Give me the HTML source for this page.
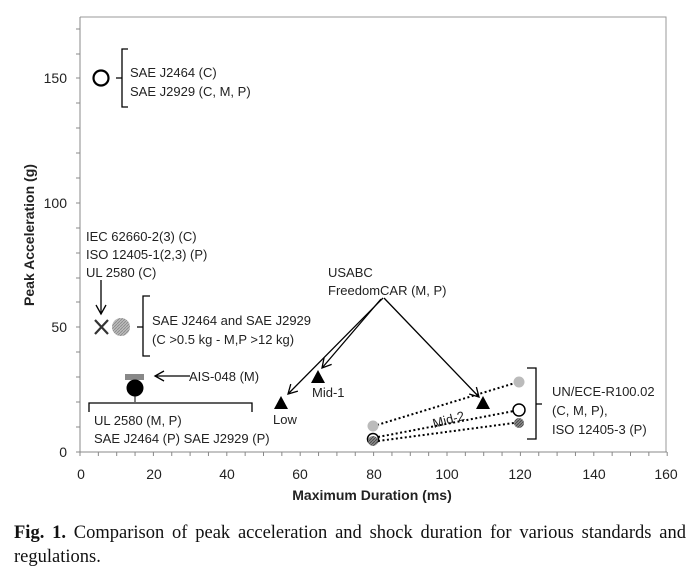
<!DOCTYPE html>
<html><head><meta charset="utf-8"><style>
body{margin:0;background:#fff;width:700px;height:579px;overflow:hidden;position:relative}
svg{position:absolute;left:0;top:0}
.cap{position:absolute;left:14px;top:521px;width:672px;font-family:"Liberation Serif",serif;font-size:18.5px;line-height:24px;text-align:justify;text-align-last:left;color:#111}
</style></head><body>
<svg width="700" height="579" font-family="Liberation Sans, sans-serif">
<defs>
<marker id="ah" markerWidth="12" markerHeight="12" refX="10" refY="6" orient="auto" markerUnits="userSpaceOnUse"><path d="M1,1 L10,6 L1,11" fill="none" stroke="#000" stroke-width="1.3"/></marker>
<pattern id="hg" width="3" height="3" patternUnits="userSpaceOnUse"><rect width="3" height="3" fill="#bbb"/><path d="M0,3 L3,0" stroke="#888" stroke-width="0.8"/></pattern>
<pattern id="hd" width="3" height="3" patternUnits="userSpaceOnUse"><rect width="3" height="3" fill="#888"/><path d="M0,3 L3,0" stroke="#444" stroke-width="0.8"/></pattern>
</defs>
<!-- frame -->
<path d="M80,17 H666 V452" fill="none" stroke="#999" stroke-width="1"/>
<line x1="80" y1="17" x2="80" y2="452" stroke="#888"/>
<line x1="80" y1="452" x2="667" y2="452" stroke="#888"/>
<g stroke="#888" stroke-width="1">
<line x1="76" y1="452" x2="80" y2="452"/><line x1="76" y1="427" x2="80" y2="427"/><line x1="76" y1="402" x2="80" y2="402"/><line x1="76" y1="377" x2="80" y2="377"/><line x1="76" y1="352" x2="80" y2="352"/><line x1="76" y1="327" x2="80" y2="327"/><line x1="76" y1="302" x2="80" y2="302"/><line x1="76" y1="278" x2="80" y2="278"/><line x1="76" y1="253" x2="80" y2="253"/><line x1="76" y1="228" x2="80" y2="228"/><line x1="76" y1="203" x2="80" y2="203"/><line x1="76" y1="178" x2="80" y2="178"/><line x1="76" y1="153" x2="80" y2="153"/><line x1="76" y1="128" x2="80" y2="128"/><line x1="76" y1="103" x2="80" y2="103"/><line x1="76" y1="78" x2="80" y2="78"/><line x1="76" y1="54" x2="80" y2="54"/><line x1="76" y1="29" x2="80" y2="29"/>
</g>
<g stroke="#888" stroke-width="1" id="xt"></g>
<g font-size="14" fill="#222" text-anchor="end">
<text x="67" y="457">0</text><text x="67" y="332">50</text><text x="67" y="208">100</text><text x="67" y="83">150</text>
</g>
<g font-size="14" fill="#222" text-anchor="middle">
<text x="81" y="479">0</text><text x="154" y="479">20</text><text x="227" y="479">40</text><text x="300" y="479">60</text><text x="374" y="479">80</text><text x="447" y="479">100</text><text x="520" y="479">120</text><text x="594" y="479">140</text><text x="666" y="479">160</text>
</g>
<text x="372" y="500" font-size="14" font-weight="bold" text-anchor="middle" fill="#222">Maximum Duration (ms)</text>
<text transform="translate(34,235) rotate(-90)" font-size="14" font-weight="bold" text-anchor="middle" fill="#222">Peak Acceleration (g)</text>

<g font-size="13" fill="#222">
<!-- 150 -->
<circle cx="101" cy="78" r="7.5" fill="none" stroke="#000" stroke-width="2.2"/>
<path d="M128,49 H122 V107 H128 M122,78 H116" fill="none" stroke="#000" stroke-width="1.3"/>
<text x="130" y="77">SAE J2464 (C)</text><text x="130" y="96">SAE J2929 (C, M, P)</text>
<!-- IEC -->
<text x="86" y="241">IEC 62660-2(3) (C)</text><text x="86" y="259">ISO 12405-1(2,3) (P)</text><text x="86" y="277">UL 2580 (C)</text>
<line x1="101" y1="280" x2="101" y2="314" stroke="#000" stroke-width="1.3" marker-end="url(#ah)"/>
<path d="M95,320 L108,334 M108,320 L95,334" stroke="#333" stroke-width="2.2"/>
<circle cx="121" cy="327" r="9" fill="url(#hg)"/>
<path d="M150,296 H143 V356 H150 M143,327 H137" fill="none" stroke="#000" stroke-width="1.3"/>
<text x="152" y="325">SAE J2464 and SAE J2929</text><text x="152" y="344">(C &gt;0.5 kg - M,P &gt;12 kg)</text>
<!-- AIS -->
<rect x="125" y="374" width="19" height="6" fill="#888"/>
<circle cx="135" cy="388" r="8.5" fill="#000"/>
<line x1="135" y1="396" x2="135" y2="402" stroke="#000"/>
<path d="M89,412 V403 H252 V412" fill="none" stroke="#000" stroke-width="1.3"/>
<line x1="190" y1="376" x2="155" y2="376" stroke="#000" stroke-width="1.3" marker-end="url(#ah)"/>
<text x="189" y="381">AIS-048 (M)</text>
<text x="94" y="425">UL 2580 (M, P)</text><text x="94" y="443">SAE J2464 (P) SAE J2929 (P)</text>
<!-- USABC -->
<text x="328" y="277">USABC</text><text x="328" y="295">FreedomCAR  (M, P)</text>
<line x1="383" y1="298" x2="288" y2="394" stroke="#000" stroke-width="1.3" marker-end="url(#ah)"/>
<line x1="381" y1="299" x2="322" y2="368" stroke="#000" stroke-width="1.3" marker-end="url(#ah)"/>
<line x1="384" y1="298" x2="479" y2="397" stroke="#000" stroke-width="1.3" marker-end="url(#ah)"/>
<polygon points="281,396 288,409 274,409" fill="#000"/>
<polygon points="318,370 325,383 311,383" fill="#000"/>
<polygon points="483,396 490,409 476,409" fill="#000"/>
<text x="273" y="424">Low</text><text x="312" y="397">Mid-1</text>
<text transform="translate(434,428) rotate(-15)">Mid-2</text>
<!-- dotted -->
<g stroke="#000" stroke-width="2" stroke-dasharray="2,2.5">
<line x1="377" y1="425" x2="515" y2="383"/><line x1="378" y1="437" x2="514" y2="411"/><line x1="378" y1="441" x2="514" y2="423"/>
</g>
<circle cx="373" cy="426" r="5.5" fill="#bbb"/>
<circle cx="373" cy="439" r="5.5" fill="none" stroke="#000" stroke-width="1.5"/>
<circle cx="373" cy="441" r="5" fill="url(#hd)"/>
<circle cx="519" cy="382" r="5.5" fill="#bbb"/>
<circle cx="519" cy="410" r="6" fill="#fff" stroke="#000" stroke-width="1.5"/>
<circle cx="519" cy="423" r="5" fill="url(#hd)"/>
<path d="M527,368 H536 V439 H527 M536,404 H542" fill="none" stroke="#000" stroke-width="1.3"/>
<text x="552" y="396">UN/ECE-R100.02</text><text x="552" y="415">(C, M, P),</text><text x="552" y="434">ISO 12405-3 (P)</text>
</g>
<script>
var g=document.getElementById('xt');for(var i=0;i<=32;i++){var x=80+i*18.35;var l=document.createElementNS('http://www.w3.org/2000/svg','line');l.setAttribute('x1',x);l.setAttribute('x2',x);l.setAttribute('y1',452);l.setAttribute('y2',456);g.appendChild(l);}
</script>
</svg>
<div class="cap"><b>Fig. 1.</b> Comparison of peak acceleration and shock duration for various standards and regulations.</div>
</body></html>
